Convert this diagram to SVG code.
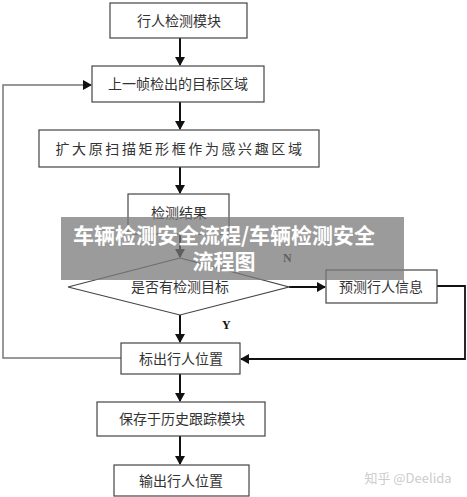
<svg xmlns="http://www.w3.org/2000/svg" width="467" height="497" viewBox="0 0 467 497">
<defs>
<style>
.box{fill:#fff;stroke:#444;stroke-width:1.2}
.t{font-family:"Noto Sans CJK SC","Liberation Sans",sans-serif;font-size:14px;fill:#333;text-anchor:middle}
.c{fill:none;stroke:#111;stroke-width:2}
.g{fill:none;stroke:#777;stroke-width:1.5}
.lbl{font-family:"Liberation Serif",serif;font-weight:bold;font-size:12px;fill:#111}
.ban{font-family:"Noto Sans CJK SC",sans-serif;font-weight:bold;font-size:21px;fill:#fff;text-anchor:middle}
</style>
<marker id="ah" markerWidth="10" markerHeight="10" refX="8" refY="5" orient="auto" markerUnits="userSpaceOnUse">
<path d="M0,0 L9,5 L0,10 Z" fill="#111"/>
</marker>
</defs>
<rect width="467" height="497" fill="#fff"/>
<g id="connectors">
<line class="c" x1="180" y1="38" x2="180" y2="65" marker-end="url(#ah)"/>
<line class="c" x1="180" y1="102" x2="180" y2="129" marker-end="url(#ah)"/>
<line class="c" x1="180" y1="167" x2="180" y2="193" marker-end="url(#ah)"/>
<line class="c" x1="180" y1="234" x2="180" y2="257" marker-end="url(#ah)"/>
<line class="c" x1="289" y1="287" x2="325" y2="287" marker-end="url(#ah)"/>
<line class="c" x1="180" y1="315" x2="180" y2="342" marker-end="url(#ah)"/>
<polyline class="c" points="437,286 465,286 465,359 241,359" style="stroke-width:1.8" marker-end="url(#ah)"/>
<polyline class="g" points="121,358 3,358 3,85 91,85" marker-end="url(#ah)"/>
<line class="c" x1="180" y1="374" x2="180" y2="401" marker-end="url(#ah)"/>
<line class="c" x1="180" y1="436" x2="180" y2="464" marker-end="url(#ah)"/>
<text class="lbl" x="283" y="262">N</text>
<text class="lbl" x="222" y="329">Y</text>
</g>
<g id="n1"><rect class="box" x="110" y="3" width="137" height="35"/><text class="t" x="179" y="26">行人检测模块</text></g>
<g id="n2"><rect class="box" x="92" y="66" width="172" height="36"/><text class="t" x="178" y="89">上一帧检出的目标区域</text></g>
<g id="n3"><rect class="box" x="39" y="130" width="280" height="37"/><text class="t" x="180" y="154" style="letter-spacing:2.6px">扩大原扫描矩形框作为感兴趣区域</text></g>
<g id="n4"><rect class="box" x="128" y="194" width="101" height="40"/><text class="t" x="179" y="218">检测结果</text></g>
<g id="n5"><polygon class="box" points="180,258 289,287 180,315 68,287"/><text class="t" x="180" y="292">是否有检测目标</text></g>
<g id="n6"><rect class="box" x="326" y="270" width="111" height="33"/><text class="t" x="381" y="292">预测行人信息</text></g>
<g id="n7"><rect class="box" x="121" y="343" width="119" height="31"/><text class="t" x="181" y="364">标出行人位置</text></g>
<g id="n8"><rect class="box" x="97" y="402" width="168" height="34"/><text class="t" x="182" y="424">保存于历史跟踪模块</text></g>
<g id="n9"><rect class="box" x="114" y="465" width="135" height="31"/><text class="t" x="181" y="486">输出行人位置</text></g>
<text x="408" y="483" style="font-family:'Noto Sans CJK SC','Liberation Sans',sans-serif;font-size:13px;fill:#ccc;text-anchor:middle">知乎 @Deelida</text>
<g id="banner">
<rect x="61" y="217" width="343" height="63" fill="#7a7a7a" fill-opacity="0.75"/>
<text class="ban" x="224" y="243">车辆检测安全流程/车辆检测安全</text>
<text class="ban" x="224" y="269">流程图</text>
</g>
</svg>
